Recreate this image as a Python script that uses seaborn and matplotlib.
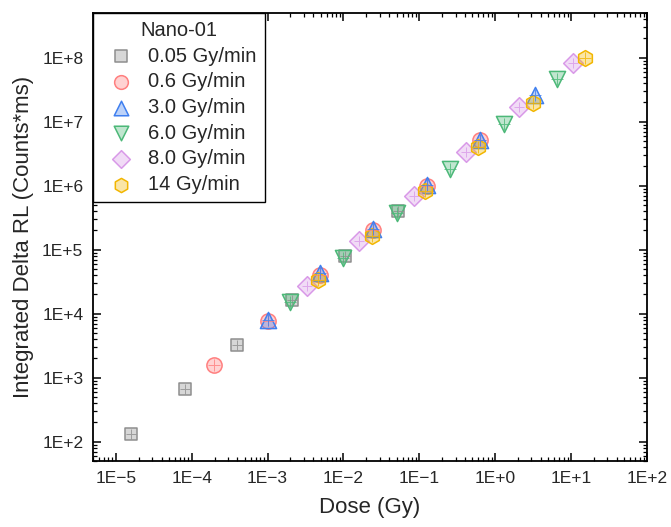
import numpy as np
import pandas as pd
import matplotlib
matplotlib.use("Agg")
import matplotlib.pyplot as plt
import matplotlib.ticker as mticker
import seaborn as sns

# series (dose in Gy, signal in counts*ms)
labels = ["0.05 Gy/min", "0.6 Gy/min", "3.0 Gy/min", "6.0 Gy/min", "8.0 Gy/min", "14 Gy/min"]

dose_005 = [1.6e-5, 8.2e-5, 4.0e-4, 2.1e-3, 1.06e-2, 5.2e-2]
rl_005 = [133, 670, 3250, 16300, 79000, 410000]

dose_06 = [1.95e-4, 1.0e-3, 4.9e-3, 2.48e-2, 0.125, 0.63]
rl_06 = [1590, 7800, 41000, 203000, 1.0e6, 5.1e6]

dose_3 = [1.0e-3, 4.9e-3, 2.48e-2, 0.125, 0.63, 3.3]
rl_3 = [7950, 42800, 208000, 1.04e6, 5.25e6, 2.63e7]

dose_6 = [1.97e-3, 9.9e-3, 0.050, 0.253, 1.31, 6.44]
rl_6 = [15200, 73400, 369000, 1.85e6, 9.3e6, 4.68e7]

dose_8 = [3.3e-3, 1.62e-2, 8.4e-2, 0.412, 2.08, 10.5]
rl_8 = [27000, 135000, 703000, 3.41e6, 1.71e7, 8.3e7]

dose_14 = [4.6e-3, 2.41e-2, 0.118, 0.596, 3.1, 15.1]
rl_14 = [33400, 162000, 841000, 4.08e6, 1.98e7, 9.9e7]

doses = [dose_005, dose_06, dose_3, dose_6, dose_8, dose_14]
signals = [rl_005, rl_06, rl_3, rl_6, rl_8, rl_14]

markers = ["s", "o", "^", "v", "D", "h"]
sizes = [85, 120, 135, 135, 100, 130]
edge_cols = ["#8e8e8e", "#ff7f7f", "#3f7fef", "#4cb878", "#d99ae8", "#f2b600"]

df = pd.concat(
    [pd.DataFrame({"dose": d, "rl": r, "rate": lab}) for d, r, lab in zip(doses, signals, labels)],
    ignore_index=True,
)

sns.set_style("ticks")
plt.rcParams["font.family"] = ["Liberation Sans", "DejaVu Sans"]

fig = plt.figure(figsize=(6.71, 5.27), dpi=100)
ax = fig.add_axes([0.1386, 0.1252, 0.8256, 0.8501])

for lab, mk, sz, ec in zip(labels, markers, sizes, edge_cols):
    sub = df[df["rate"] == lab]
    fc = matplotlib.colors.to_rgba(ec, 0.35)
    sns.scatterplot(data=sub, x="dose", y="rl", marker=mk, s=sz, color=fc,
                    edgecolor=ec, linewidth=1.1, label=lab, ax=ax, zorder=3)
    # inner cross like the origin symbols
    sns.scatterplot(data=sub, x="dose", y="rl", marker="+", s=sz * 0.55, color=ec,
                    linewidth=0.7, alpha=0.8, legend=False, ax=ax, zorder=4)

ax.set_xscale("log")
ax.set_yscale("log")
ax.set_xlim(5e-6, 100)
ax.set_ylim(50, 5e8)


def fmt_exp(v, pos):
    e = int(round(np.log10(v)))
    sign = "+" if e >= 0 else "\u2212"
    return f"1E{sign}{abs(e)}"


for axis in (ax.xaxis, ax.yaxis):
    axis.set_major_locator(mticker.LogLocator(base=10, numticks=20))
    axis.set_minor_locator(mticker.LogLocator(base=10, subs=np.arange(2, 10), numticks=20))
    axis.set_minor_formatter(mticker.NullFormatter())
    axis.set_major_formatter(mticker.FuncFormatter(fmt_exp))

ax.tick_params(which="both", direction="in", top=True, right=True, color="black")
ax.tick_params(which="major", length=6, width=1.1, labelsize=12.5, pad=7)
ax.tick_params(which="minor", length=3, width=0.9)
for sp in ax.spines.values():
    sp.set_linewidth(1.3)
    sp.set_color("black")

ax.set_xlabel("Dose (Gy)", fontsize=16, labelpad=8)
ax.set_ylabel("Integrated Delta RL (Counts*ms)", fontsize=16, labelpad=6)

leg = ax.legend(title="Nano-01", loc="upper left", borderaxespad=0, fontsize=14.5,
                title_fontsize=14.5, frameon=True, fancybox=False, framealpha=1,
                edgecolor="black", handlelength=2.0, handletextpad=0.35,
                labelspacing=0.33, borderpad=0.4, markerscale=0.9)
leg.get_frame().set_linewidth(1.0)

fig.savefig("out.png", dpi=100)
